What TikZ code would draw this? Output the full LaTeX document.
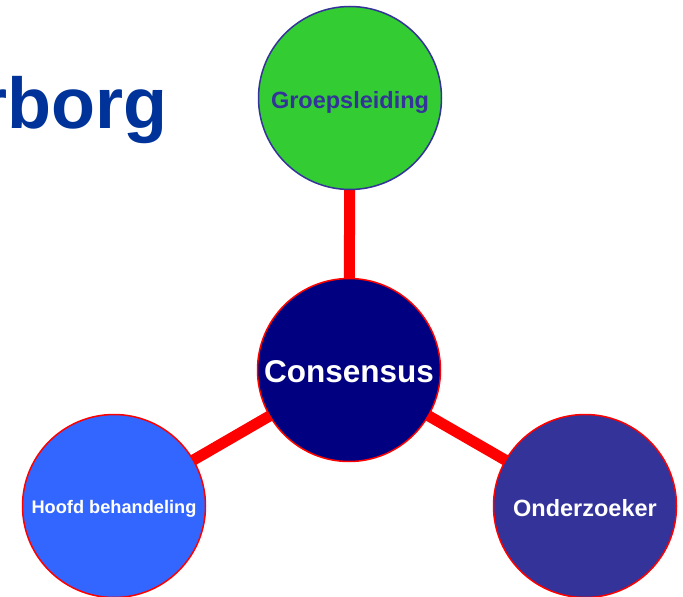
\documentclass[tikz,border=0pt]{standalone}
\usepackage{fontspec}
\setmainfont{Liberation Sans}
\usetikzlibrary{backgrounds}
\definecolor{titleblue}{RGB}{0,51,153}
\definecolor{cgreen}{RGB}{51,204,51}
\definecolor{cnavy}{RGB}{0,0,128}
\definecolor{cblue}{RGB}{51,102,255}
\definecolor{cpurple}{RGB}{51,51,153}
\definecolor{cred}{RGB}{255,0,0}
\tikzset{
  bubble/.style={circle, minimum size=183pt, inner sep=0pt, line width=1.5pt, font=\bfseries},
  link/.style={draw=cred, line width=11pt},
}
\newcommand{\dropby}[2]{\raisebox{-#1}[0pt][0pt]{#2}}
\begin{document}
\begin{tikzpicture}[x=1pt,y=1pt]
\useasboundingbox (0,0) rectangle (683,-597);
\clip (0,0) rectangle (683,-597);
\node[anchor=base east, inner sep=0pt, text=titleblue, font=\fontsize{72}{72}\selectfont\bfseries] (title) at (168,-128) {rborg};
\node[bubble, fill=cgreen, draw=cpurple, text=cpurple, font=\fontsize{23.5}{24}\selectfont\bfseries] (top) at (350,-98) {\dropby{10pt}{Groepsleiding}};
\node[bubble, fill=cnavy, draw=cred, text=white, font=\fontsize{31.5}{32}\selectfont\bfseries] (center) at (349,-370) {\dropby{12pt}{Consensus}};
\node[bubble, fill=cblue, draw=cred, text=white, font=\fontsize{18.2}{19}\selectfont\bfseries] (left) at (114,-506) {\dropby{7pt}{Hoofd behandeling}};
\node[bubble, fill=cpurple, draw=cred, text=white, font=\fontsize{23.5}{24}\selectfont\bfseries] (right) at (585,-506) {\dropby{10pt}{Onderzoeker}};
\begin{scope}[on background layer]
  \fill[white] (0,0) rectangle (683,-597);
  \draw[link] (center.center) -- (top.center);
  \draw[link] (center.center) -- (left.center);
  \draw[link] (center.center) -- (right.center);
\end{scope}
\end{tikzpicture}
\end{document}
